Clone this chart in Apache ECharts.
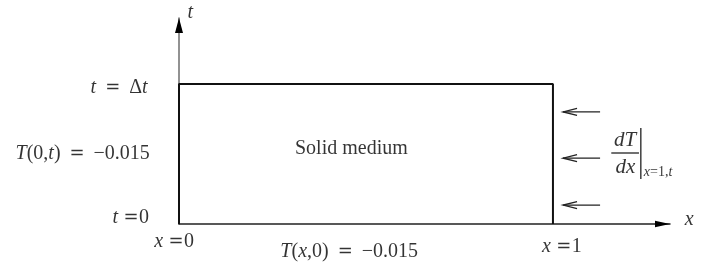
<!DOCTYPE html>
<html><head><meta charset="utf-8">
<script src="https://cdn.jsdelivr.net/npm/echarts/dist/echarts.min.js"></script>
<style>html,body{margin:0;padding:0;background:#fff}#c{width:706px;height:268px}</style>
</head><body><div id="c"></div>
<script>
// Domain of the diagram: x in [0, 1], t in [0, Δt] (Δt drawn as 1)
const rectCorners = [[0, 0], [0, 1], [1, 1], [1, 0]];
const axisEnds = [[1.313, 0], [0, 1.471]];   // x axis end, t axis end
const fluxArrowT = [0.80, 0.47, 0.135];
const fluxArrowX = [1.126, 1.027];          // tail, tip
const labelTexts = [
  '{i|t}{eq|=}Δ{i|t}',
  '{i|T}(0,{i|t}){eq|=}−0.015',
  '{i|t} {eq2|=}0',
  '{i|x} {eq2|=}0',
  '{i|T}({i|x},0){eq|=}−0.015',
  '{i|x} {eq2|=}1',
  'Solid medium',
  '{i|t}',
  '{i|x}'
];
const fracTop = '{fi|dT}';
const fracBottom = '{fi|dx}';
const fracSub = '{si|x}{s|=1,}{si|t}';

const serif = '"Liberation Serif","DejaVu Serif",serif';
const eqFont = '"DejaVu Serif","Liberation Serif",serif';
const ink = '#000';
const fs = 20;
const base = {fontFamily: serif, fontSize: fs, color: ink};
const rich = {
  i: Object.assign({}, base, {fontStyle: 'italic'}),
  fi: Object.assign({}, base, {fontSize: 21, fontStyle: 'italic'}),
  eq: Object.assign({}, base, {fontFamily: eqFont, fontSize: 18, width: 33, align: 'center'}),
  eq2: Object.assign({}, base, {fontFamily: eqFont, fontSize: 18, width: 16, align: 'center'}),
  s: Object.assign({}, base, {fontSize: 14}),
  si: Object.assign({}, base, {fontSize: 14, fontStyle: 'italic'})
};
function lbl(text, x, t, pos) {
  return {value: [x, t], label: {show: true, formatter: text, position: pos || 'inside', distance: 0,
    fontFamily: serif, fontSize: fs, color: ink, rich: rich}};
}
const labelData = [
  lbl(labelTexts[0], -0.084, 0.971, 'left'),
  lbl(labelTexts[1], -0.078, 0.50, 'left'),
  lbl(labelTexts[2], -0.080, 0.043, 'left'),
  lbl(labelTexts[3], -0.013, -0.129),
  lbl(labelTexts[4], 0.455, -0.20),
  lbl(labelTexts[5], 1.024, -0.164),
  lbl(labelTexts[6], 0.461, 0.536),
  lbl(labelTexts[7], 0.030, 1.507),
  lbl(labelTexts[8], 1.364, 0.029),
  lbl(fracTop, 1.193, 0.596),
  lbl(fracBottom, 1.194, 0.405),
  lbl(fracSub, 1.243, 0.37, 'right')
];

const chart = echarts.init(document.getElementById('c'));
chart.setOption({
  animation: false,
  grid: {left: 179, right: 36, top: 18, bottom: 44},
  xAxis: {type: 'value', min: 0, max: axisEnds[0][0], splitLine: {show: false}, axisTick: {show: false}, axisLabel: {show: false},
    axisLine: {show: true, lineStyle: {color: '#222', width: 1.5}}},
  yAxis: {type: 'value', min: 0, max: axisEnds[1][1], splitLine: {show: false}, axisTick: {show: false}, axisLabel: {show: false},
    axisLine: {show: true, lineStyle: {color: '#777', width: 1.6}}},
  series: [
    {type: 'line', data: rectCorners, symbol: 'none', clip: false, lineStyle: {color: '#111', width: 2}, z: 3},
    {type: 'custom', clip: false, z: 4, data: axisEnds,
      renderItem: function (params, api) {
        const p = api.coord([api.value(0), api.value(1)]);
        const horiz = params.dataIndex === 0;
        const pts = horiz
          ? [[p[0], p[1]], [p[0] - 15, p[1] - 3.2], [p[0] - 15, p[1] + 3.2]]
          : [[p[0], p[1]], [p[0] - 4, p[1] + 15], [p[0] + 4, p[1] + 15]];
        return {type: 'polygon', shape: {points: pts}, style: {fill: '#000', stroke: null}};
      }},
    {type: 'custom', clip: false, z: 3,
      data: fluxArrowT.map(t => [fluxArrowX[0], fluxArrowX[1], t]),
      renderItem: function (params, api) {
        const p0 = api.coord([api.value(0), api.value(2)]);
        const p1 = api.coord([api.value(1), api.value(2)]);
        const st = {stroke: '#222', lineWidth: 1.3, fill: null};
        return {type: 'group', children: [
          {type: 'line', shape: {x1: p0[0], y1: p0[1], x2: p1[0], y2: p1[1]}, style: st},
          {type: 'polyline', shape: {points: [[p1[0] + 14, p1[1] - 3.5], [p1[0], p1[1]], [p1[0] + 14, p1[1] + 3.5]]}, style: st}
        ]};
      }},
    {type: 'custom', clip: false, z: 3,
      data: [[1.156, 1.230, 0.507, 1.235, 0.686, 0.321]],
      renderItem: function (params, api) {
        const a = api.coord([api.value(0), api.value(2)]);
        const b = api.coord([api.value(1), api.value(2)]);
        const c = api.coord([api.value(3), api.value(4)]);
        const d = api.coord([api.value(3), api.value(5)]);
        const st = {stroke: '#222', lineWidth: 1.3};
        return {type: 'group', children: [
          {type: 'line', shape: {x1: a[0], y1: a[1], x2: b[0], y2: b[1]}, style: st},
          {type: 'line', shape: {x1: c[0], y1: c[1], x2: d[0], y2: d[1]}, style: st}
        ]};
      }},
    {type: 'scatter', symbolSize: 0, clip: false, z: 5, data: labelData}
  ]
});
</script></body></html>
